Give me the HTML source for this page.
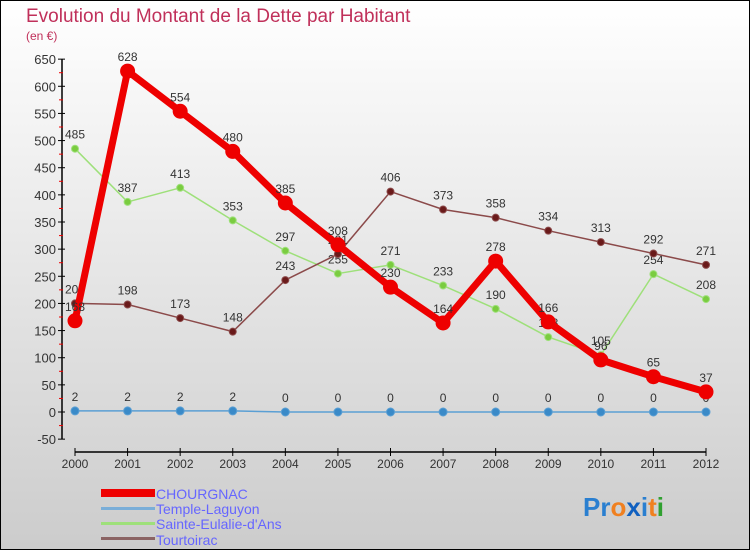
<!DOCTYPE html>
<html><head><meta charset="utf-8"><style>
body{margin:0}
#c{width:750px;height:550px;position:relative;overflow:hidden}
svg text{font-family:"Liberation Sans",sans-serif}
</style></head><body>
<div id="c">
<svg id="s" width="750" height="550" xmlns="http://www.w3.org/2000/svg">
<defs><linearGradient id="bg" x1="0" y1="0" x2="0" y2="1"><stop offset="0" stop-color="#ffffff"/><stop offset="1" stop-color="#cccccc"/></linearGradient></defs>
<rect x="0.5" y="0.5" width="749" height="549" fill="url(#bg)" stroke="#000" stroke-width="1"/>
<text x="26" y="22" font-size="19" fill="#c0305a">Evolution du Montant de la Dette par Habitant</text>
<text x="26" y="40" font-size="12" fill="#c0305a">(en €)</text>
<g id="axes"></g><g id="series"></g>
<g>
<rect x="101" y="489" width="54" height="8" fill="#e00"/>
<text x="156" y="499" font-size="14" fill="#66f">CHOURGNAC</text>
<rect x="101" y="507" width="54" height="3" fill="#7aaed8"/>
<text x="156" y="514" font-size="14" fill="#66f">Temple-Laguyon</text>
<rect x="101" y="522" width="54" height="3" fill="#9ee07a"/>
<text x="156" y="529" font-size="14" fill="#66f">Sainte-Eulalie-d'Ans</text>
<rect x="101" y="537" width="54" height="3" fill="#8b6464"/>
<text x="156" y="545" font-size="14" fill="#66f">Tourtoirac</text>
</g>
<text x="583" y="516" font-size="26" font-weight="bold"><tspan fill="#2a7fd0">Pr</tspan><tspan fill="#f08020">o</tspan><tspan fill="#1060c0">x</tspan><tspan fill="#2a7fd0">i</tspan><tspan fill="#f08020">t</tspan><tspan fill="#30a030">i</tspan></text>
</svg></div>
<script>
const years=["2000","2001","2002","2003","2004","2005","2006","2007","2008","2009","2010","2011","2012"];
const yTicks=[-50,0,50,100,150,200,250,300,350,400,450,500,550,600,650];
const chourgnac=[168,628,554,480,385,308,230,164,278,166,96,65,37];
const temple=[2,2,2,2,0,0,0,0,0,0,0,0,0];
const sainte=[485,387,413,353,297,255,271,233,190,138,105,254,208];
const tourtoirac=[200,198,173,148,243,291,406,373,358,334,313,292,271];
const NS="http://www.w3.org/2000/svg";
const x=i=>75+i*(706-75)/(years.length-1);
const y=v=>412-v*(380/700);
function mk(t,a,p){const e=document.createElementNS(NS,t);for(const k in a)e.setAttribute(k,a[k]);p.appendChild(e);return e;}
const ax=document.getElementById('axes'),sr=document.getElementById('series');
let l=mk('line',{x1:62,y1:y(650),x2:62,y2:y(-50),stroke:'#000','stroke-width':1.5},ax);


l=mk('line',{x1:x(0),y1:452,x2:x(12),y2:452,stroke:'#000','stroke-width':1.5},ax);


yTicks.forEach(v=>{
 mk('line',{x1:58,y1:y(v),x2:65,y2:y(v),stroke:'#000'},ax);
 mk('line',{x1:59,y1:y(v-25),x2:63,y2:y(v-25),stroke:'#e00'},ax).setAttribute('opacity',v>-50?1:0);
 const t=mk('text',{x:56,y:y(v)+5,'font-size':13,'text-anchor':'end',fill:'#333'},ax);t.textContent=v;
 
 
});
years.forEach((yr,i)=>{
 mk('line',{x1:x(i),y1:448,x2:x(i),y2:456,stroke:'#000'},ax);
 const t=mk('text',{x:x(i),y:468,'font-size':12,'text-anchor':'middle',fill:'#333'},ax);t.textContent=yr;
 
 
});
function series(d,name,col,dot,w,r){
 const g=mk('g',{},sr);
 
 
 const pl=mk('polyline',{points:d.map((v,i)=>x(i)+','+y(v)).join(' '),fill:'none',stroke:col,'stroke-width':w,'stroke-linejoin':'round'},g);
 
 
 d.forEach((v,i)=>{
  const c=mk('circle',{cx:x(i),cy:y(v),r:r,fill:dot,stroke:col,'stroke-width':1},g);
  
  
  const t=mk('text',{x:x(i),y:y(v)-10,'font-size':12,'text-anchor':'middle',fill:'#333'},g);t.textContent=v;
  
  
 });
}
series(temple,'temple-laguyon','#5a9fd4','#3a8ac8',1.5,4);
series(sainte,'sainte-eulalie','#9ee07a','#7acc40',1.5,3.5);
series(tourtoirac,'tourtoirac','#8b4a4a','#6a1a1a',1.5,3.5);
series(chourgnac,'chourgnac','#e00','#e00',7,7);
</script>
</body></html>
